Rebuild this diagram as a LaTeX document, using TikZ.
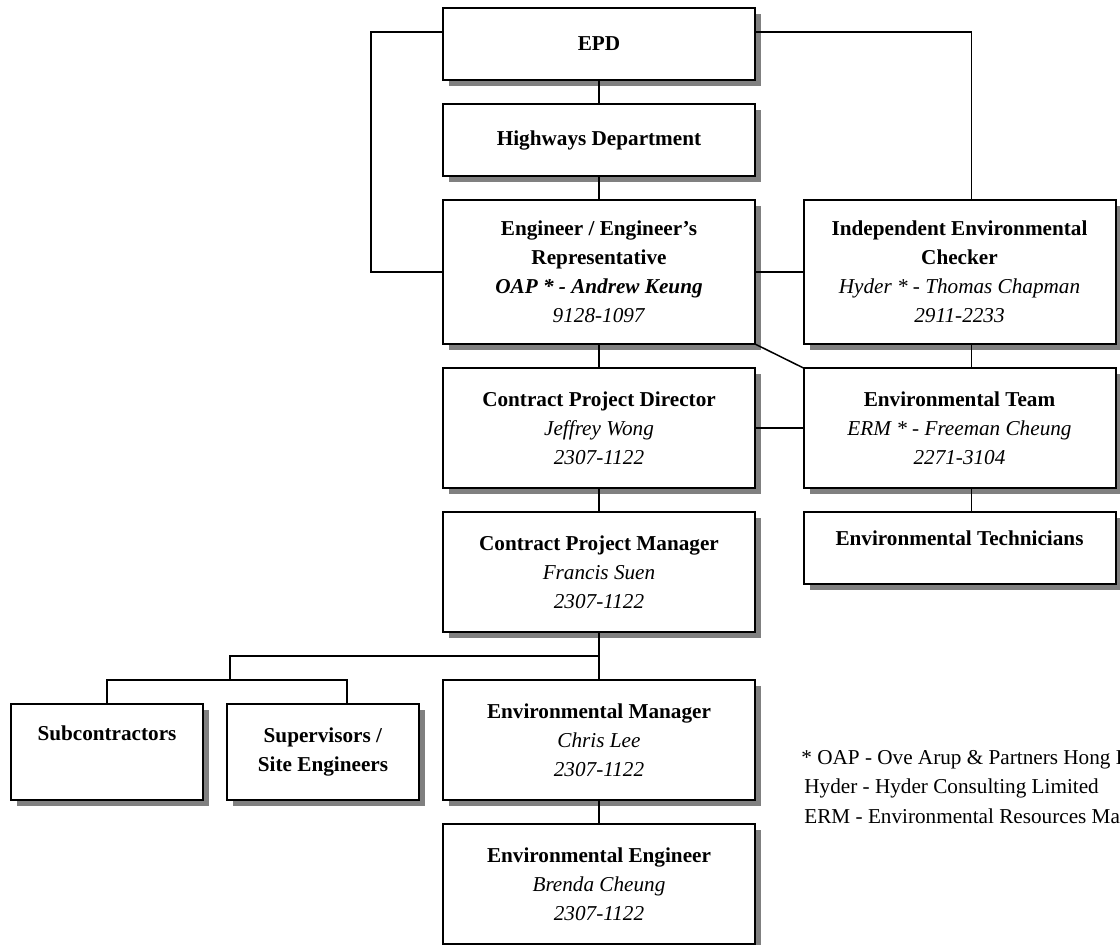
\documentclass[tikz,border=0pt]{standalone}
\usepackage{fontspec}
\setmainfont{Liberation Serif}
\usetikzlibrary{positioning,shadows}

\tikzset{
  post/.style={draw,line width=1pt,fill=white,outer sep=0pt,inner sep=2pt,
    minimum width=156pt,align=center,
    drop shadow={shadow xshift=3pt,shadow yshift=-3pt,fill=gray,opacity=1}},
  link/.style={line width=0.75pt},
}

\begin{document}
\begin{tikzpicture}[x=0.5pt,y=-0.5pt,node distance=12pt,
    font=\fontsize{10.6}{14.5}\selectfont]
  \useasboundingbox (0,0) rectangle (1120,944);
  \clip (0,0) rectangle (1120,944);
  % contract line
  \node[post,minimum height=36pt] (epd) at (599,44) {\textbf{EPD}};
  \node[post,minimum height=36pt,below=of epd] (hyd) {\textbf{Highways Department}};
  \node[post,minimum height=72pt,below=of hyd] (eng)
    {\textbf{Engineer / Engineer’s}\\ \textbf{Representative}\\
     \textbf{\textit{OAP * - Andrew Keung}}\\ \textit{9128-1097}};
  \node[post,minimum height=60pt,below=of eng] (cpd)
    {\textbf{Contract Project Director}\\ \textit{Jeffrey Wong}\\ \textit{2307-1122}};
  \node[post,minimum height=60pt,below=of cpd] (cpm)
    {\textbf{Contract Project Manager}\\ \textit{Francis Suen}\\ \textit{2307-1122}};
  \node[post,minimum height=60pt,below=24pt of cpm] (emgr)
    {\textbf{Environmental Manager}\\ \textit{Chris Lee}\\ \textit{2307-1122}};
  \node[post,minimum height=60pt,below=of emgr] (eeng)
    {\textbf{Environmental Engineer}\\ \textit{Brenda Cheung}\\ \textit{2307-1122}};
  % environmental side
  \node[post,minimum height=72pt] (iec) at (959.5,272)
    {\textbf{Independent Environmental}\\ \textbf{Checker}\\
     \textit{Hyder * - Thomas Chapman}\hspace*{15pt}\\ \textit{2911-2233}};
  \node[post,minimum height=60pt,below=of iec] (team)
    {\textbf{Environmental Team}\\ \textit{ERM * - Freeman Cheung}\\ \textit{2271-3104}};
  \node[post,minimum height=36pt,text height=8pt,text depth=11pt,below=of team] (tech)
    {\textbf{Environmental Technicians}};
  % site staff
  \node[post,minimum width=96pt,minimum height=48pt,text height=8pt,text depth=20pt] (sub)
    at (107,752) {\textbf{Subcontractors}};
  \node[post,minimum width=96pt,minimum height=48pt] (sup) at (323,752)
    {\textbf{Supervisors /}\\ \textbf{Site Engineers}};

  % links
  \draw[link] (epd) -- (hyd);
  \draw[link] (hyd) -- (eng);
  \draw[link] (eng) -- (cpd);
  \draw[link] (cpd) -- (cpm);
  \draw[link] (cpm) -- (emgr);
  \draw[link] (emgr) -- (eeng);
  \draw[link] ([yshift=6pt]epd.west) -- ++(-72,0) |- (eng);
  \draw[link] ([yshift=6pt]epd.east) -| ([xshift=6pt]iec.north);
  \draw[link] (eng) -- (iec);
  \draw[link] (eng.south east) -- (team.north west);
  \draw[link] ([xshift=6pt]iec.south) -- ([xshift=6pt]team.north);
  \draw[link] (cpd) -- (team);
  \draw[link] ([xshift=6pt]team.south) -- ([xshift=6pt]tech.north);
  \coordinate (fork) at (230,656);
  \coordinate (split) at (230,680);
  \draw[link] (cpm.south |- fork) -- (fork) -- (split);
  \draw[link] (sub) |- (split) -| ([xshift=12pt]sup.north);

  % key (runs past the right edge, as in the original)
  \node[anchor=north west,align=left,inner sep=0pt,
    font=\fontsize{10.6}{14.75}\selectfont] (key) at (801,749)
    {* OAP - Ove Arup \& Partners Hong Kong Ltd\\
     \hspace*{1.5pt}Hyder - Hyder Consulting Limited\\
     \hspace*{1.5pt}ERM - Environmental Resources Management};
\end{tikzpicture}
\end{document}
